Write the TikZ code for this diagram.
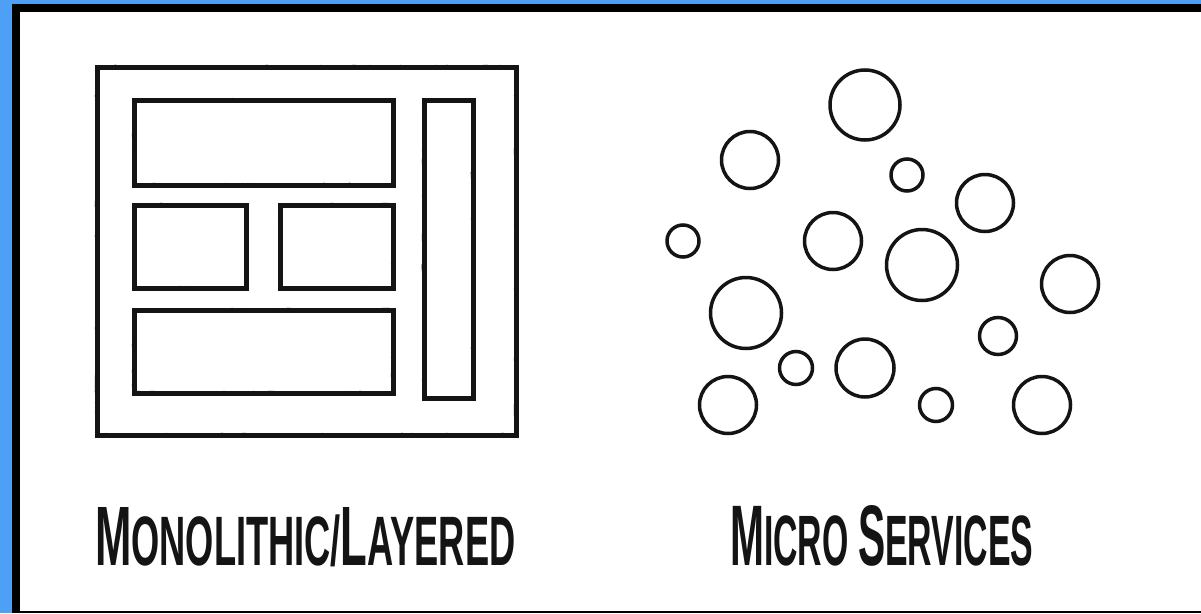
\documentclass[tikz,border=0pt]{standalone}
\usepackage{fontspec}
\setmainfont{Liberation Sans}
\usepackage{graphicx}
\usetikzlibrary{decorations.pathmorphing}
\definecolor{frameblue}{RGB}{77,160,245}
\tikzset{
  sketch/.style={draw=black!92, line width=5pt, line join=miter},
  rough/.style={draw=black!92, line width=2pt, decorate, decoration={random steps, segment length=5pt, amplitude=1.3pt}},
  svc/.style={draw=black!92, line width=3.5pt},
  caption/.style={inner sep=0pt, anchor=base west, text=black!92, font=\bfseries}
}
\newcommand{\bigL}[1]{{\fontsize{10}{10}\selectfont #1}}
\newcommand{\smallL}[1]{{\fontsize{8.3}{8.3}\selectfont #1}}
\begin{document}
\begin{tikzpicture}[x=1pt,y=-1pt]
\useasboundingbox (0,0) rectangle (1201,613);
% frame
\fill[frameblue] (0,0) rectangle (1201,613);
\fill[black] (12,4) rectangle (1201,613);
\fill[white] (20,12) rectangle (1201,611);
% monolithic
\foreach \a/\b in {{97,67}/{516,435},{134,100}/{393,185},{134,205}/{246,288},{280,205}/{393,288},{134,310}/{393,393},{424,100}/{473,398}}{
  \draw[sketch] (\a) rectangle (\b);
  \draw[rough] (\a) rectangle (\b);
}
% micro services
\draw[svc] (865,105) circle (35pt);
\draw[svc] (750,160) circle (28.5pt);
\draw[svc] (907,175) circle (16pt);
\draw[svc] (985,203) circle (28.5pt);
\draw[svc] (683,241) circle (16pt);
\draw[svc] (833,241) circle (28.5pt);
\draw[svc] (922,265) circle (35.5pt);
\draw[svc] (1070,284) circle (28.5pt);
\draw[svc] (746,313) circle (35.5pt);
\draw[svc] (998,336) circle (18.5pt);
\draw[svc] (796,368) circle (16.5pt);
\draw[svc] (865,368) circle (29pt);
\draw[svc] (728,405) circle (28.5pt);
\draw[svc] (936,405) circle (16.5pt);
\draw[svc] (1042,405) circle (28.5pt);
% captions
\node[caption] (mono) at (95,565) {\resizebox{420pt}{58pt}{\bigL{M}\smallL{ONOLITHIC/}\bigL{L}\smallL{AYERED}}};
\node[caption] (micro) at (730,565) {\resizebox{303pt}{60pt}{\bigL{M}\smallL{ICRO }\bigL{S}\smallL{ERVICES}}};
\end{tikzpicture}
\end{document}
